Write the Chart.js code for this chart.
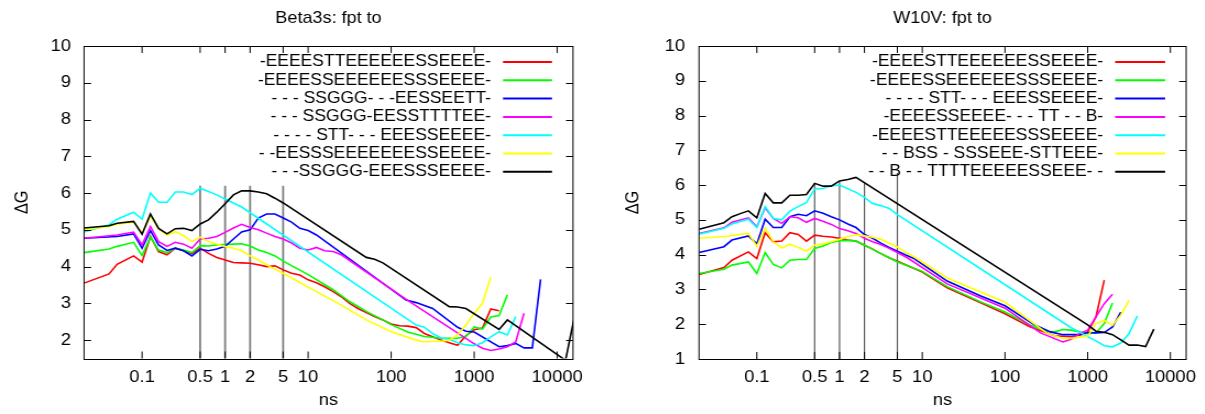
<!DOCTYPE html>
<html>
<head>
<meta charset="utf-8">
<script src="https://cdn.jsdelivr.net/npm/chart.js@4"></script>
<style>
  body { margin: 0; background: #fff; overflow: hidden; }
  /* the reference text is a little wide: draw, then stretch each panel sideways */
  .panel { position: absolute; top: 0; height: 414px; transform: scaleX(1.1); transform-origin: 0 0; }
</style>
</head>
<body>
<div class="panel" style="left:0;width:548px"><canvas id="beta3s" width="548" height="414"></canvas></div>
<div class="panel" style="left:602px;width:549px"><canvas id="w10v" width="549" height="414"></canvas></div>
<script>
var SX = 1.1;

// ticks
var xTicks = [0.1, 0.5, 1, 2, 5, 10, 100, 1000, 10000];
var yTicksB3 = [2, 3, 4, 5, 6, 7, 8, 9, 10];
var yTicksW10 = [1, 2, 3, 4, 5, 6, 7, 8, 9, 10];

// vertical marker lines (ns) and how high they go
var markTimes = [0.5, 1, 2, 5];
var markTopB3 = [6.2, 6.2, 6.2, 6.2];
var markTopW10 = [6.05, 6.1, 6.05, 6.35];

var colors = ["#ff0000", "#00ff00", "#0000ff", "#ff00ff", "#00ffff", "#ffff00", "#000000"];

var namesB3 = [
  "-EEEESTTEEEEEESSEEEE-",
  "-EEEESSEEEEEESSSEEEE-",
  "- - - SSGGG- - -EESSEETT-",
  "- - - SSGGG-EESSTTTTEE-",
  "- - - - STT- - - EEESSEEEE-",
  "- -EESSSEEEEEEESSEEEE-",
  "- - -SSGGG-EEESSSEEEE-"
];
var namesW10 = [
  "-EEEESTTEEEEEESSEEEE-",
  "-EEEESSEEEEEESSSEEEE-",
  "- - - - STT- - - EEESSEEEE-",
  "-EEEESSEEEE- - - TT - - B-",
  "-EEEESTTEEEEESSSEEEE-",
  "- - BSS - SSSEEE-STTEEE-",
  "- - B - - TTTTEEEEESSEEE- -"
];

// Beta3s: [ns, dG]
var b3Red = [[0.02,3.55],[0.04,3.8],[0.05,4.06],[0.079,4.29],[0.1,4.12],[0.126,4.82],[0.158,4.41],[0.2,4.32],[0.251,4.5],[0.316,4.43],[0.398,4.35],[0.501,4.5],[0.631,4.36],[0.794,4.25],[1,4.18],[1.26,4.11],[1.58,4.1],[2,4.09],[2.51,4.05],[3.16,4.0],[3.98,4.02],[5.01,3.91],[6.31,3.82],[7.94,3.77],[10,3.64],[12.6,3.56],[15.8,3.45],[20,3.32],[25.1,3.18],[31.6,3.0],[39.8,2.86],[50.1,2.75],[63.1,2.64],[79.4,2.55],[100,2.44],[126,2.39],[158,2.38],[200,2.34],[251,2.18],[316,2.09],[398,2.0],[501,1.93],[631,1.86],[794,2.12],[1000,2.28],[1259,2.33],[1585,2.85],[1995,2.8]];
var b3Green = [[0.02,4.38],[0.04,4.48],[0.05,4.55],[0.079,4.66],[0.1,4.3],[0.126,4.8],[0.158,4.45],[0.2,4.38],[0.251,4.5],[0.316,4.45],[0.398,4.38],[0.501,4.57],[0.631,4.56],[0.794,4.59],[1,4.6],[1.26,4.61],[1.58,4.62],[2,4.56],[2.51,4.45],[3.16,4.38],[3.98,4.29],[5.01,4.15],[10,3.78],[20,3.37],[31.6,3.05],[50.1,2.78],[79.4,2.55],[100,2.42],[158,2.22],[251,2.1],[398,2.05],[631,2.05],[794,2.1],[1000,2.36],[1259,2.3],[1585,2.63],[1995,2.67],[2512,3.23]];
var b3Blue = [[0.02,4.77],[0.05,4.82],[0.079,4.89],[0.1,4.5],[0.126,4.98],[0.158,4.59],[0.2,4.44],[0.251,4.5],[0.316,4.43],[0.398,4.29],[0.501,4.47],[0.631,4.43],[0.794,4.48],[1,4.55],[1.26,4.75],[1.58,4.94],[2,5.0],[2.51,5.32],[3.16,5.43],[3.98,5.43],[5.01,5.32],[6.31,5.21],[7.94,5.04],[10,4.98],[12.6,4.86],[151,3.09],[200,3.02],[316,2.86],[631,2.35],[794,2.24],[1000,2.22],[1995,1.82],[2512,1.85],[3162,1.91],[3981,1.79],[5012,1.79],[6310,3.65]];
var b3Magenta = [[0.02,4.77],[0.05,4.86],[0.079,4.94],[0.1,4.59],[0.126,5.09],[0.158,4.68],[0.2,4.55],[0.251,4.66],[0.316,4.61],[0.398,4.5],[0.501,4.75],[0.631,4.77],[0.794,4.82],[1,4.93],[1.26,5.05],[1.58,5.15],[2,5.06],[2.51,5.0],[3.16,4.91],[3.98,4.82],[5.01,4.75],[6.31,4.64],[7.94,4.5],[10,4.45],[12.6,4.52],[15.8,4.43],[20,4.41],[25.1,4.32],[158,3.08],[794,2.05],[1000,1.9],[1259,1.78],[1585,1.72],[1995,1.76],[2512,1.82],[3162,1.95],[3981,2.73]];
var b3Cyan = [[0.02,4.94],[0.04,5.14],[0.05,5.29],[0.079,5.48],[0.1,5.29],[0.126,6.0],[0.158,5.75],[0.2,5.75],[0.251,6.03],[0.316,6.03],[0.398,5.96],[0.501,6.13],[0.631,6.04],[0.794,5.95],[1,5.84],[1.58,5.62],[200,2.41],[251,2.35],[316,2.18],[398,2.06],[501,2.02],[631,1.93],[794,1.87],[1000,1.85],[1259,1.93],[1585,2.09],[1995,2.23],[2512,2.14],[3162,2.64]];
var b3Yellow = [[0.02,5.0],[0.04,5.09],[0.05,5.15],[0.079,5.21],[0.1,4.91],[0.126,5.38],[0.158,5.02],[0.2,4.86],[0.251,4.95],[0.316,4.84],[0.398,4.68],[0.501,4.8],[0.631,4.68],[0.794,4.61],[1,4.55],[1.26,4.5],[1.58,4.43],[2,4.29],[2.51,4.18],[3.16,4.05],[3.98,3.93],[5.01,3.82],[10,3.44],[25.1,2.95],[50.1,2.55],[100,2.23],[200,2.0],[251,1.95],[316,1.97],[398,1.97],[501,2.0],[631,2.14],[794,2.41],[1000,2.73],[1259,3.0],[1585,3.71]];
var b3Black = [[0.02,5.05],[0.04,5.11],[0.05,5.18],[0.079,5.23],[0.1,4.88],[0.126,5.43],[0.158,5.04],[0.2,4.89],[0.251,5.03],[0.316,5.04],[0.398,4.98],[0.501,5.16],[0.631,5.27],[0.794,5.48],[1,5.71],[1.26,5.95],[1.58,6.06],[2,6.06],[2.51,6.03],[3.16,5.98],[3.98,5.86],[5.01,5.73],[50.1,4.25],[63.1,4.2],[79.4,4.1],[501,2.91],[631,2.9],[794,2.86],[1995,2.29],[2512,2.55],[12589,1.45],[15849,2.55]];

// W10V: [ns, dG]
var wRed = [[0.02,3.43],[0.04,3.63],[0.05,3.84],[0.079,4.08],[0.1,3.89],[0.126,4.63],[0.158,4.37],[0.2,4.39],[0.251,4.63],[0.316,4.58],[0.398,4.39],[0.501,4.56],[0.631,4.53],[0.794,4.51],[1,4.47],[1.26,4.42],[1.58,4.39],[2,4.27],[2.51,4.16],[3.16,4.03],[3.98,3.91],[5.01,3.81],[10,3.5],[20,3.05],[50.1,2.62],[100,2.3],[200,1.93],[398,1.67],[631,1.64],[891,1.71],[1000,1.78],[1259,2.21],[1585,3.27]];
var wGreen = [[0.02,3.46],[0.04,3.58],[0.05,3.7],[0.079,3.79],[0.1,3.46],[0.126,4.06],[0.158,3.72],[0.2,3.62],[0.251,3.84],[0.316,3.86],[0.398,3.86],[0.501,4.18],[0.631,4.25],[0.794,4.35],[1,4.4],[1.26,4.41],[1.58,4.39],[2,4.27],[2.51,4.16],[3.16,4.03],[3.98,3.91],[5.01,3.79],[10,3.52],[20,3.08],[50.1,2.65],[100,2.35],[200,1.98],[316,1.8],[398,1.78],[501,1.85],[631,1.83],[794,1.78],[1000,1.73],[1259,1.75],[1585,2.02],[1995,2.61]];
var wBlue = [[0.02,4.06],[0.04,4.23],[0.05,4.42],[0.079,4.54],[0.1,4.31],[0.126,5.02],[0.158,4.78],[0.2,4.78],[0.251,5.09],[0.316,5.16],[0.398,5.12],[0.501,5.26],[0.631,5.19],[0.794,5.09],[1,5.0],[1.26,4.88],[1.58,4.78],[2,4.58],[2.51,4.47],[3.16,4.33],[3.98,4.21],[5.01,4.1],[6.31,3.99],[7.94,3.89],[20,3.24],[50.1,2.82],[100,2.53],[224,1.99],[355,1.78],[501,1.7],[794,1.7],[1000,1.76],[1259,1.75],[1585,1.76],[1995,1.92],[2512,2.35]];
var wMagenta = [[0.02,4.61],[0.04,4.77],[0.05,4.93],[0.079,5.06],[0.1,4.8],[0.126,5.35],[0.158,5.04],[0.2,4.9],[0.251,5.09],[0.316,5.06],[0.398,4.93],[0.501,5.04],[0.631,4.96],[0.794,4.87],[1,4.75],[1.26,4.69],[1.58,4.61],[2,4.47],[2.51,4.37],[3.16,4.29],[3.98,4.18],[5.01,4.06],[6.6,3.91],[20,3.16],[100,2.46],[269,1.75],[501,1.49],[631,1.57],[794,1.73],[1000,1.83],[1259,2.21],[1585,2.59],[1995,2.86]];
var wCyan = [[0.02,4.59],[0.04,4.76],[0.05,4.88],[0.079,5.02],[0.1,4.78],[0.126,5.38],[0.158,5.04],[0.2,5.0],[0.251,5.25],[0.316,5.38],[0.398,5.5],[0.501,5.89],[0.631,5.9],[0.794,5.98],[1,6.0],[1.58,5.79],[2,5.65],[2.51,5.47],[3.16,5.41],[3.98,5.33],[5.01,5.15],[631,1.9],[794,1.78],[1000,1.64],[1259,1.52],[1585,1.38],[1995,1.35],[2512,1.46],[3162,1.73],[3981,2.24]];
var wYellow = [[0.02,4.47],[0.04,4.52],[0.079,4.61],[0.1,4.24],[0.126,4.76],[0.158,4.37],[0.2,4.19],[0.251,4.3],[0.316,4.21],[0.398,4.1],[0.501,4.28],[0.631,4.31],[0.794,4.37],[1,4.44],[1.26,4.52],[1.58,4.57],[2,4.54],[2.51,4.5],[3.16,4.44],[3.98,4.33],[5.01,4.22],[6.31,4.06],[7.94,3.94],[20,3.33],[100,2.63],[200,2.1],[316,1.75],[501,1.59],[631,1.59],[794,1.63],[1000,1.66],[1259,2.02],[1585,2.11],[1995,1.97],[2512,2.26],[3162,2.69]];
var wBlack = [[0.02,4.73],[0.04,4.92],[0.05,5.09],[0.063,5.18],[0.079,5.26],[0.1,5.06],[0.126,5.76],[0.158,5.49],[0.2,5.49],[0.251,5.71],[0.316,5.71],[0.398,5.73],[0.501,6.05],[0.631,5.97],[0.794,5.97],[1,6.12],[1.26,6.16],[1.58,6.22],[1000,1.98],[1259,1.8],[1585,1.77],[1995,1.7],[2512,1.55],[3162,1.4],[3981,1.4],[5012,1.36],[6310,1.86]];

var FONT = "'Liberation Sans', Arial, sans-serif";

// frame, inward tick marks and the legend (gnuplot style)
var gnuFrame = {
  id: "gnuFrame",
  afterDraw: function(chart) {
    var ctx = chart.ctx, a = chart.chartArea;
    var xs = chart.scales.x, ys = chart.scales.y;
    var opts = chart.options.plugins.gnuFrame;
    ctx.save();
    ctx.strokeStyle = "#000";
    ctx.lineWidth = 1;
    ctx.beginPath();
    xs.ticks.forEach(function(t) {
      var p = xs.getPixelForValue(t.value);
      ctx.moveTo(p, a.bottom); ctx.lineTo(p, a.bottom - 7);
      ctx.moveTo(p, a.top); ctx.lineTo(p, a.top + 7);
    });
    ys.ticks.forEach(function(t) {
      var p = Math.round(ys.getPixelForValue(t.value)) + 0.5;
      ctx.moveTo(a.left, p); ctx.lineTo(a.left + 7 / SX, p);
      ctx.moveTo(a.right, p); ctx.lineTo(a.right - 7 / SX, p);
    });
    ctx.stroke();
    ctx.strokeRect(a.left, Math.round(a.top) + 0.5, a.right - a.left, Math.round(a.bottom - a.top));

    // legend: text right-aligned, sample line to its right
    ctx.font = "15.9px " + FONT;
    ctx.textAlign = "right";
    ctx.textBaseline = "middle";
    ctx.fillStyle = "#000";
    for (var i = 0; i < opts.names.length; i++) {
      var y = a.top + 16 + i * 18.3;
      ctx.fillText(opts.names[i], a.right - opts.textGap / SX, y);
      ctx.strokeStyle = colors[i];
      ctx.lineWidth = 2;
      ctx.beginPath();
      ctx.moveTo(a.right - (opts.textGap - 12) / SX, y);
      ctx.lineTo(a.right - 21 / SX, y);
      ctx.stroke();
    }
    ctx.restore();
  }
};

function makeChart(id, title, series, names, yMin, yTicks, markTop, g) {
  var datasets = [];
  for (var m = 0; m < markTimes.length; m++) {
    datasets.push({
      data: [{x: markTimes[m], y: yMin}, {x: markTimes[m], y: markTop[m]}],
      borderColor: g.markColor,
      borderWidth: g.markWidth,
      pointRadius: 0,
      order: 20
    });
  }
  for (var i = 0; i < series.length; i++) {
    datasets.push({
      label: names[i],
      data: series[i].map(function(p) { return {x: p[0], y: p[1]}; }),
      borderColor: colors[i],
      borderWidth: 1.6,
      pointRadius: 0,
      tension: 0,
      order: 7 - i
    });
  }

  return new Chart(document.getElementById(id), {
    type: "line",
    data: { datasets: datasets },
    options: {
      responsive: false,
      animation: false,
      layout: { padding: { left: 0, right: g.padRight, top: 0, bottom: 0 } },
      plugins: {
        legend: { display: false },
        tooltip: { enabled: false },
        title: {
          display: true,
          text: title,
          fullSize: false,
          color: "#000",
          font: { family: FONT, size: 16.4, weight: "normal" },
          padding: { top: 9, bottom: 17.3 }
        },
        gnuFrame: { names: names, textGap: g.textGap }
      },
      scales: {
        x: {
          type: "logarithmic",
          min: 0.02,
          max: 15500,
          grid: { display: false, drawTicks: false },
          border: { display: false },
          afterBuildTicks: function(s) { s.ticks = xTicks.map(function(v) { return {value: v}; }); },
          afterFit: function(s) { s.height = g.xHeight; },
          ticks: {
            autoSkip: false,
            maxRotation: 0,
            padding: 8.5,
            color: "#000",
            font: { family: FONT, size: 16.7 },
            callback: function(v) { return String(v); }
          },
          title: {
            display: true,
            text: "ns",
            color: "#000",
            font: { family: FONT, size: 16.7 },
            padding: { top: 0, bottom: 4 }
          }
        },
        y: {
          min: yMin,
          max: 10,
          grid: { display: false, drawTicks: false },
          border: { display: false },
          afterBuildTicks: function(s) { s.ticks = yTicks.map(function(v) { return {value: v}; }); },
          afterFit: function(s) { s.width = g.yWidth; },
          ticks: {
            padding: g.yLabelPad,
            color: "#000",
            font: { family: FONT, size: 16.7 }
          },
          title: {
            display: true,
            text: "\u0394G",
            color: "#000",
            font: { family: FONT, size: 16.4 },
            padding: { top: g.yTitlePad, bottom: 0 }
          }
        }
      }
    },
    plugins: [gnuFrame]
  });
}

// geometry is in canvas pixels (page pixels / SX)
makeChart("beta3s", "Beta3s: fpt to",
  [b3Red, b3Green, b3Blue, b3Magenta, b3Cyan, b3Yellow, b3Black],
  namesB3, 1.5, yTicksB3, markTopB3,
  { yWidth: 76.4, xHeight: 55.5, padRight: 27.1, yLabelPad: 11.8, yTitlePad: 10.2, textGap: 82,
    markColor: "#808080", markWidth: 1.8 });

makeChart("w10v", "W10V: fpt to",
  [wRed, wGreen, wBlue, wMagenta, wCyan, wYellow, wBlack],
  namesW10, 1, yTicksW10, markTopW10,
  { yWidth: 88.2, xHeight: 55, padRight: 15.4, yLabelPad: 12.7, yTitlePad: 18.3, textGap: 83,
    markColor: "#5a5a5a", markWidth: 1.2 });
</script>
</body>
</html>
